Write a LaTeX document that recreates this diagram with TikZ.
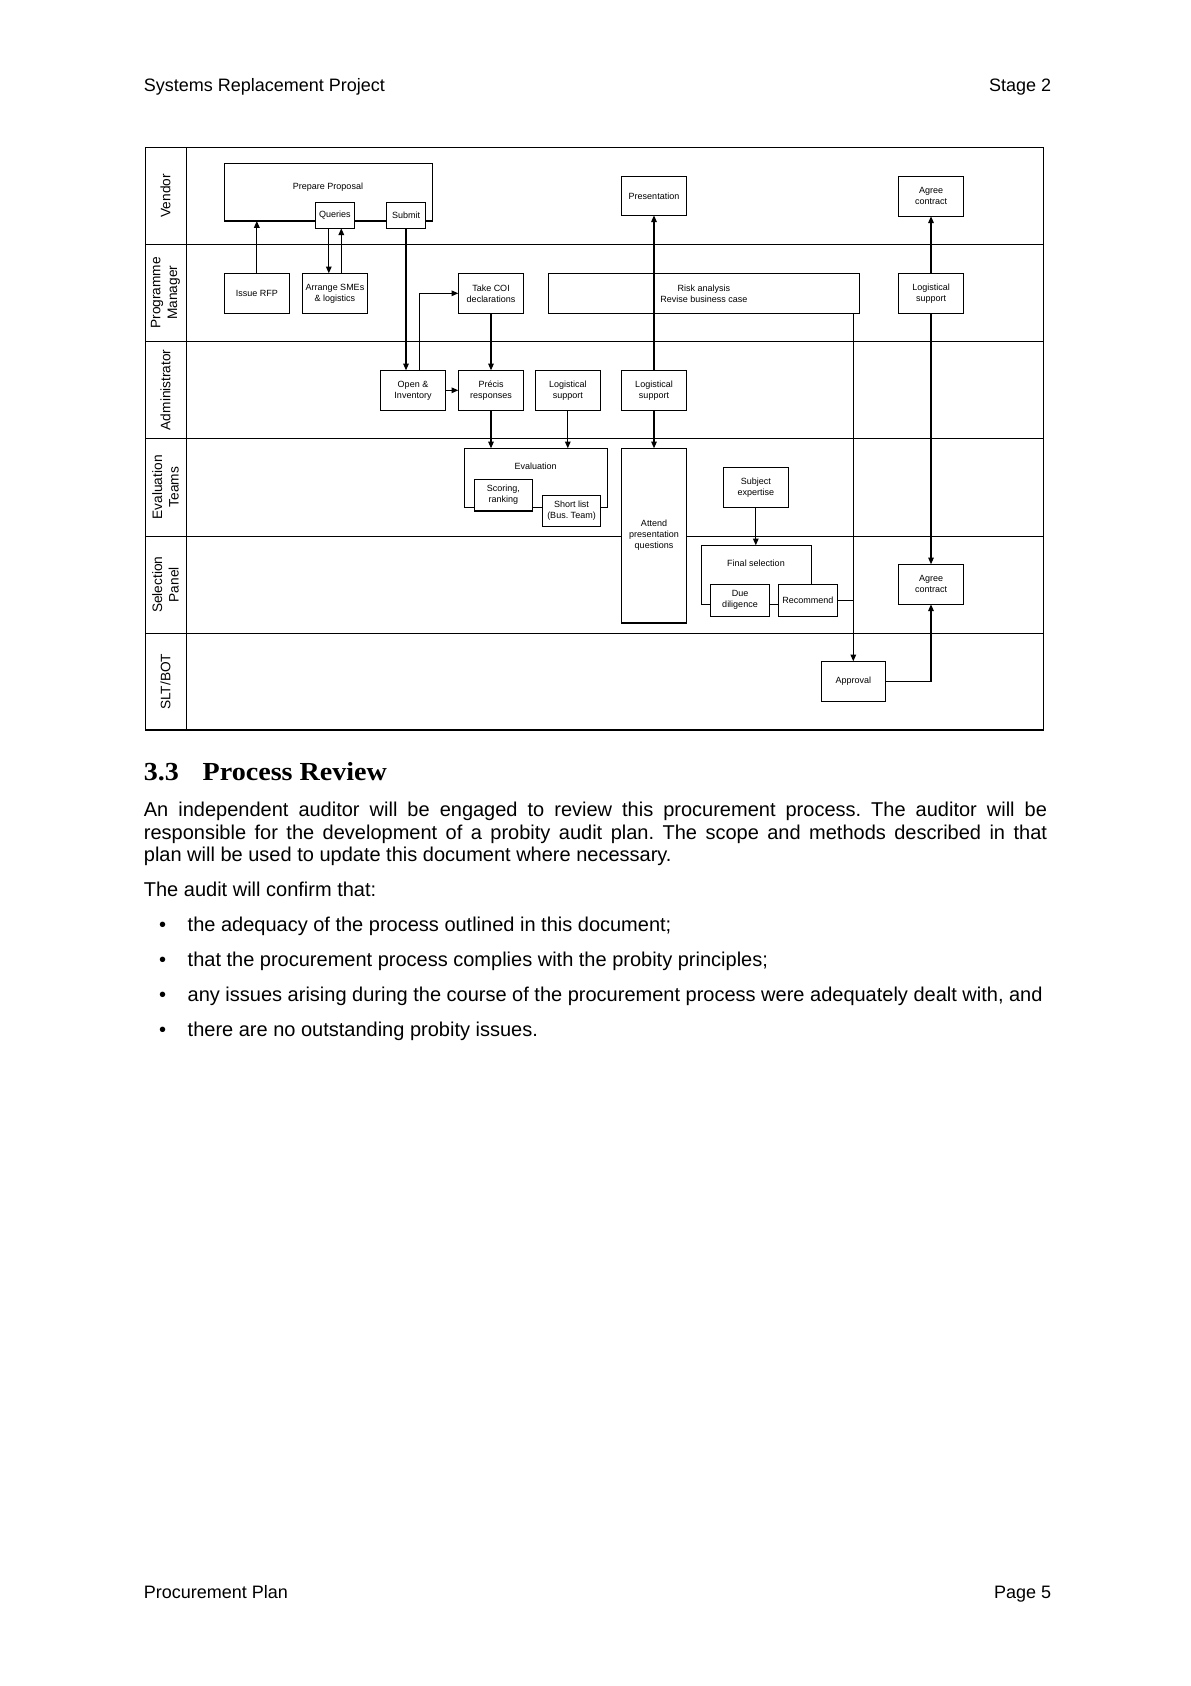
\documentclass[tikz,border=0pt]{standalone}
\usepackage{fontspec}
\usepackage{graphicx}
\setmainfont{Liberation Sans}
\newfontfamily\headserif{Liberation Serif}
\usetikzlibrary{arrows.meta}
\newcommand\pbox[6]{\node[box, minimum width={(#4-#2)*0.5pt}, minimum height={(#5-#3)*0.5pt}] (#1) at ({(#2+#4)/2},{(#3+#5)/2}) {#6};}
\frenchspacing
\begin{document}
\begin{tikzpicture}[x=0.5pt,y=-0.5pt,
  box/.style={draw, fill=white, line width=0.6pt, inner sep=0pt, outer sep=0pt, align=center, font=\fontsize{4.5}{5.5}\selectfont},
  txt/.style={inner sep=0pt, align=center, font=\fontsize{4.5}{5.5}\selectfont},
  lane/.style={rotate=90, inner sep=0pt, align=center, font=\fontsize{6.85}{8.3}\selectfont},
  conn/.style={line width=0.6pt},
  arr/.style={line width=0.6pt, -{Triangle[length=3.4pt,width=2.8pt]}},
  hdr/.style={inner sep=0pt, font=\fontsize{9}{11}\selectfont},
  body/.style={inner sep=0pt, anchor=base west, font=\fontsize{10}{11.2}\selectfont}]
\useasboundingbox (0,0) rectangle (1190,1686);

% swimlane grid
\draw[conn] (145.3,147.3) rectangle (1043.5,730);
\draw[conn] (186.3,147.3) -- (186.3,730);
\foreach \yy in {244.3,341.3,438.3,536.3,633.3} \draw[conn] (145.3,\yy) -- (1043.5,\yy);

% lane labels
\node[lane] (lVendor) at (165.5,195.8) {Vendor};
\node[lane] (lPM) at (165.5,292.8) {Programme\\Manager};
\node[lane] (lAdmin) at (165.5,389.8) {Administrator};
\node[lane] (lEval) at (165.5,487.3) {Evaluation\\Teams};
\node[lane] (lSel) at (165.5,584.8) {Selection\\Panel};
\node[lane] (lSLT) at (165.5,681.7) {SLT/BOT};

% Vendor lane
\pbox{prep}{224.3}{163.3}{432.7}{221}{}
\node[txt] (prepT) at (328,186.7) {Prepare Proposal};
\pbox{queries}{315.3}{202.3}{354.3}{228.3}{Queries}
\pbox{submit}{386.3}{202.3}{425.7}{228.3}{Submit}
\pbox{present}{621.3}{176.3}{686.7}{215.3}{Presentation}
\pbox{agreeA}{898.3}{176.3}{963.7}{216.3}{Agree\\contract}

% Programme Manager lane
\pbox{rfp}{224.3}{273.3}{289.3}{313.3}{Issue RFP}
\pbox{smes}{302.3}{273.3}{367.7}{313.3}{Arrange SMEs\\\& logistics}
\pbox{coi}{458.3}{273.3}{523.7}{313.3}{Take COI\\declarations}
\pbox{risk}{548.3}{273.3}{859.3}{313.3}{Risk analysis\\Revise business case}
\pbox{logpm}{898.3}{273.3}{963.7}{313.3}{Logistical\\support}

% Administrator lane
\pbox{open}{380.3}{370.3}{445.7}{410.3}{Open \&\\Inventory}
\pbox{precis}{458.3}{370.3}{523.7}{410.3}{Précis\\responses}
\pbox{logA}{535.3}{370.3}{600.3}{410.3}{Logistical\\support}
\pbox{logB}{621.3}{370.3}{686.7}{410.3}{Logistical\\support}

% Evaluation lane
\pbox{eval}{464.3}{448.3}{607.3}{507.3}{}
\node[txt] (evalT) at (535.7,466.7) {Evaluation};
\pbox{scoring}{474.3}{479.3}{532.3}{511}{Scoring,\\ranking}
\pbox{short}{542.3}{495.3}{600.7}{526.3}{Short list\\(Bus. Team)}
\pbox{attend}{621.3}{448.3}{686.7}{623}{Attend\\presentation\\questions}
\pbox{subject}{723.3}{467.3}{788.3}{507.3}{Subject\\expertise}

% Selection panel lane
\pbox{final}{701.3}{545.3}{811.3}{604.3}{}
\node[txt] (finalT) at (756,563.7) {Final selection};
\pbox{due}{710.3}{584.3}{769.7}{616.3}{Due\\diligence}
\pbox{recommend}{778.3}{584.3}{837.3}{616.3}{Recommend}
\pbox{agreeB}{898.3}{564.3}{963.7}{604.3}{Agree\\contract}

% SLT/BOT lane
\pbox{approval}{821.3}{661.3}{885.3}{701.3}{Approval}

% connectors
\draw[arr] (rfp.north) -- (rfp.north |- prep.south);
\draw[arr] ([xshift=-3pt]queries.south) -- ([xshift=-3pt]queries.south |- smes.north);
\draw[arr] ([xshift=3.25pt]queries.south |- smes.north) -- ([xshift=3.25pt]queries.south);
\draw[arr] (submit.south) -- (submit.south |- open.north);
\draw[arr] ([xshift=3.15pt]open.north) |- (coi.west);
\draw[arr] (open.east) -- (precis.west);
\draw[arr] (coi.south) -- (precis.north);
\draw[arr] (precis.south) -- (precis.south |- eval.north);
\draw[arr] (logA.south) -- (logA.south |- eval.north);
\draw[arr] (logB.south) -- (attend.north);
\draw[arr] (logB.north) -- (present.south);
\draw[arr] (approval.north |- risk.south) -- (approval.north);
\draw[arr] (logpm.north) -- (agreeA.south);
\draw[arr] (logpm.south) -- (agreeB.north);
\draw[arr] (subject.south) -- (subject.south |- final.north);
\draw[conn] (recommend.east) -- (recommend.east -| approval.north);
\draw[arr] (approval.east) -| (agreeB.south);

% page header
\node[hdr, anchor=base west] (hdrL) at (143.5,91) {Systems Replacement Project};
\node[hdr, anchor=base east] (hdrR) at (1051.5,91) {Stage 2};

% section heading
\node[inner sep=0pt, anchor=base west, font=\headserif\bfseries\fontsize{13}{15}\selectfont] (secNum) at (143.5,780.7) {\scalebox{1.08}[1]{3.3}};
\node[inner sep=0pt, anchor=base west, font=\headserif\bfseries\fontsize{13}{15}\selectfont] (secTitle) at (202.3,780.7) {\scalebox{1.08}[1]{Process Review}};

% paragraph
\node[body] (p1) at (143.5,816.7) {\makebox[451.6pt][s]{An independent auditor will be engaged to review this procurement process. The auditor will be}};
\node[body] (p2) at (143.5,839.1) {\makebox[451.6pt][s]{responsible for the development of a probity audit plan. The scope and methods described in that}};
\node[body] (p3) at (143.5,861.5) {plan will be used to update this document where necessary.};
\node[body] (p4) at (143.5,896.7) {The audit will confirm that:};

% bullets
\node[body, anchor=base] (d1) at (162.7,931.7) {\textbullet};
\node[body] (t1) at (187.3,931.7) {the adequacy of the process outlined in this document;};
\node[body, anchor=base] (d2) at (162.7,966.7) {\textbullet};
\node[body] (t2) at (187.3,966.7) {that the procurement process complies with the probity principles;};
\node[body, anchor=base] (d3) at (162.7,1001.7) {\textbullet};
\node[body] (t3) at (187.3,1001.7) {any issues arising during the course of the procurement process were adequately dealt with, and};
\node[body, anchor=base] (d4) at (162.7,1036.7) {\textbullet};
\node[body] (t4) at (187.3,1036.7) {there are no outstanding probity issues.};

% footer
\node[hdr, anchor=base west] (ftL) at (143.5,1598.3) {Procurement Plan};
\node[hdr, anchor=base east] (ftR) at (1051.5,1598.3) {Page 5};
\end{tikzpicture}
\end{document}
